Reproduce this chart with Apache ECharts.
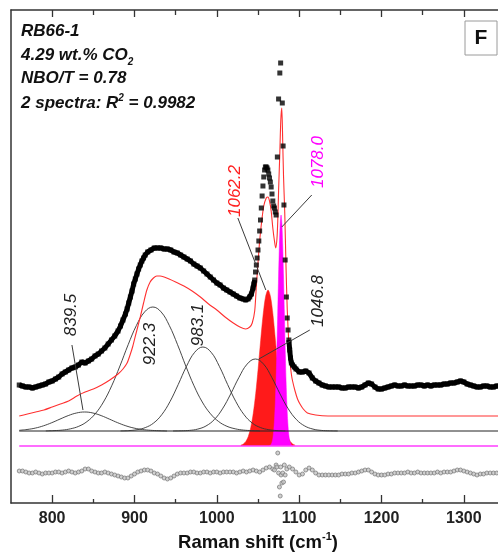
<!DOCTYPE html>
<html>
<head>
<meta charset="utf-8">
<script src="https://cdn.jsdelivr.net/npm/echarts@6/dist/echarts.min.js"></script>
<style>
  html, body { margin: 0; padding: 0; background: #ffffff; }
  #chart { width: 498px; height: 553px; }
</style>
</head>
<body>
<div id="chart"></div>
<script>
// Raman spectrum of glass RB66-1 with its fitted Gaussian bands (intensity in arbitrary units, offset for display)

const majorTicks = [800, 900, 1000, 1100, 1200, 1300];
const minorTicks = [850, 950, 1050, 1150, 1250];

// measured spectrum, offset above the fit
const measured = [
  [760,46],[764,45],[768,44],[772,44],[776,43],[780,44],[784,45],[788,46],[792,47],[796,49],
  [800,50],[804,52],[808,54],[812,57],[816,59],[820,61],[824,63],[828,64],[832,66],[836,69],
  [840,68],[844,70],[848,72],[852,75],[856,77],[860,80],[864,83],[868,87],[872,91],[876,95],
  [880,100],[883,105],[886,111],[889,117],[891,122],[893,128],[895,134],[897,140],[899,147],[901,152],
  [903,157],[905,162],[907,166],[909,170],[911,173],[913,176],[916,179],[920,181],[924,183],[928,183],
  [932,183],[936,182],[940,182],[944,181],[948,179],[952,178],[956,176],[960,174],[964,172],[968,170],
  [972,167],[976,165],[980,163],[984,160],[988,157],[992,154],[996,151],[1000,148],[1004,146],[1008,143],
  [1012,141],[1016,139],[1020,137],[1024,135],[1028,133],[1032,132],[1035,131],[1038,132],[1040,134],[1042,137],
  [1044,143],[1045,147],[1046,151],[1047,159],[1048,166],[1049,173],[1050,181],[1051,190],[1052,200],[1053,211],
  [1054,223],[1055,235],[1056,245],[1057,254],[1058,261],[1059,264],[1060,264],[1061,263],[1062,261],[1063,257],
  [1064,253],[1065,249],[1066,244],[1067,237],[1068,230],[1069,225],[1070,223],[1071,219],[1072,216],[1073.5,274],
  [1075,332],[1076.5,358],[1077.5,368],[1079.5,328],[1080.5,285],[1081.5,226],[1083,171],[1084.5,134],[1085.5,113],[1086.5,101],
  [1087.5,91],[1088.5,81],[1089.5,73],[1090.5,68],[1092,66],[1094,64],[1096,62],[1100,59],[1104,59],[1108,60],
  [1112,58],[1116,53],[1120,50],[1124,48],[1128,46],[1132,45],[1136,44],[1140,44],[1144,44],[1148,44],
  [1152,43],[1156,43],[1160,44],[1164,44],[1168,44],[1172,43],[1176,44],[1180,46],[1184,48],[1188,47],
  [1192,44],[1196,42],[1200,42],[1204,43],[1208,44],[1212,45],[1216,46],[1220,45],[1224,45],[1228,46],
  [1232,45],[1236,45],[1240,45],[1244,46],[1248,46],[1252,45],[1256,46],[1260,45],[1264,46],[1268,46],
  [1272,46],[1276,47],[1280,47],[1284,48],[1288,48],[1292,49],[1296,50],[1300,49],[1304,47],[1308,46],
  [1312,45],[1316,44],[1320,44],[1324,45],[1328,45],[1332,44],[1336,44],[1340,45],[1344,45]
];

// cumulative fit (red line), offset above the bands
const fitTotal = [
  [760,15],[770,17],[780,19],[790,21],[800,24],[810,27],[820,30],[830,35],[840,39],[850,42],
  [860,46],[870,51],[880,57],[886,62],[891,68],[895,77],[898,85],[902,98],[907,114],[911,128],
  [915,141],[919,149],[923,153],[927,155],[931,155],[936,154],[942,152],[950,149],[960,145],[970,140],
  [980,134],[990,127],[1000,121],[1010,114],[1020,108],[1028,104],[1035,102],[1040,104],[1043,108],[1046,120],
  [1048,145],[1050,168],[1052,190],[1054.5,210],[1057,225],[1060,233],[1062,234],[1064,230],[1066,220],[1068,203],
  [1070,190],[1071.5,183],[1073,192],[1074,210],[1075,240],[1076.5,278],[1077.7,311],[1078.9,323],[1080,290],[1081,255],
  [1082.5,218],[1084,165],[1085.5,122],[1087.4,88],[1089,68],[1090.5,57],[1092,50],[1095,40],[1098,32],[1101,27],
  [1105,22],[1110,18],[1120,16],[1135,15],[1350,15]
];

// fitted bands on the common baseline (value 0)
const band839 = [
  [760,0.7],[769.5,1.5],[779.5,2.9],[789.5,5.2],[799.5,8.3],[809.5,11.9],[819.5,15.4],[829.5,18.0],[839.5,19],
  [849.5,18.0],[859.5,15.4],[869.5,11.9],[879.5,8.3],[889.5,5.2],[899.5,2.9],[909.5,1.5],[919.5,0.7],[929.5,0.3],[939.5,0]
];
const band922 = [
  [792.3,0.1],[802.3,0.4],[812.3,0.9],[822.3,2.2],[832.3,4.7],[842.3,9.4],[852.3,17.2],[862.3,29.0],[872.3,45.2],
  [882.3,65.0],[892.3,86.3],[902.3,105.5],[912.3,119.1],[922.3,124],[932.3,119.1],[942.3,105.5],[952.3,86.3],
  [962.3,65.0],[972.3,45.2],[982.3,29.0],[992.3,17.2],[1002.3,9.4],[1012.3,4.7],[1022.3,2.2],[1032.3,0.9],[1042.3,0.4],[1052.3,0.1]
];
const band983 = [
  [883.1,0.1],[893.1,0.4],[903.1,1.3],[913.1,3.4],[923.1,7.9],[933.1,16.3],[943.1,29.4],[953.1,46.5],[963.1,64.6],
  [973.1,78.7],[983.1,84],[993.1,78.7],[1003.1,64.6],[1013.1,46.5],[1023.1,29.4],[1033.1,16.3],[1043.1,7.9],
  [1053.1,3.4],[1063.1,1.3],[1073.1,0.4],[1083.1,0.1]
];
const band1047 = [
  [946.8,0.05],[956.8,0.2],[966.8,0.6],[976.8,1.9],[986.8,5.0],[996.8,11.3],[1006.8,22.1],[1016.8,37.0],[1026.8,53.5],
  [1036.8,66.9],[1046.8,72],[1056.8,66.9],[1066.8,53.5],[1076.8,37.0],[1086.8,22.1],[1096.8,11.3],[1106.8,5.0],
  [1116.8,1.9],[1126.8,0.6],[1136.8,0.2],[1146.8,0.05]
];

// carbonate bands, filled down to their own baseline
const carbBase = -15;
const band1062 = [
  [1029.2,-14.2],[1032.2,-13],[1035.2,-10.5],[1038.2,-5.5],[1041.2,3.4],[1044.2,17.4],[1047.2,37.3],[1050.2,62.5],
  [1053.2,90.3],[1056.2,116],[1059.2,134.3],[1062.2,141],[1065.2,134.3],[1068.2,116],[1071.2,90.3],[1074.2,62.5],
  [1077.2,37.3],[1080.2,17.4],[1083.2,3.4],[1086.2,-5.5],[1089.2,-10.5],[1092.2,-13],[1095.2,-14.2]
];
const band1078 = [
  [1064,-14.7],[1065,-14.3],[1066,-13.3],[1067,-11.3],[1068,-7.5],[1069,-0.6],[1070,11],[1071,28],[1072,52],
  [1073,83],[1074,119],[1075,155],[1076,186],[1077,208],[1078,216],[1079,208],[1080,186],[1081,155],[1082,119],
  [1083,83],[1084,52],[1085,28],[1086,11],[1087,-0.6],[1088,-7.5],[1089,-11.3],[1090,-13.3],[1091,-14.3],[1092,-14.7]
];

// fit residuals
const residual = [
  [760,-40],[764,-40],[768,-41],[772,-42],[776,-42],[780,-41],[784,-42],[788,-43],[792,-42],[796,-42],
  [800,-42],[804,-41],[808,-41],[812,-42],[816,-41],[820,-40],[824,-41],[828,-42],[832,-41],[836,-40],
  [840,-38],[844,-38],[848,-40],[852,-41],[856,-42],[860,-42],[864,-41],[868,-42],[872,-43],[876,-44],
  [880,-45],[884,-46],[888,-47],[892,-47],[896,-45],[900,-43],[904,-41],[908,-40],[912,-39],[916,-39],
  [920,-40],[924,-42],[928,-43],[932,-45],[936,-47],[940,-48],[944,-47],[948,-45],[952,-43],[956,-42],
  [960,-42],[964,-42],[968,-41],[972,-41],[976,-42],[980,-42],[984,-41],[988,-41],[992,-42],[996,-41],
  [1000,-41],[1004,-42],[1008,-41],[1012,-41],[1016,-41],[1020,-41],[1024,-42],[1028,-41],[1032,-40],[1036,-41],
  [1040,-40],[1044,-39],[1048,-40],[1052,-41],[1056,-39],[1060,-37],[1064,-36],[1068,-38],[1070,-39],[1072,-34],
  [1073,-36],[1074,-22],[1075,-42],[1076,-56],[1077,-65],[1077.5,-36],[1078,-44],[1079,-52],[1080,-42],[1081,-51],
  [1082,-34],[1083,-44],[1085,-38],[1088,-36],[1092,-38],[1096,-41],[1100,-44],[1104,-43],[1108,-39],[1112,-37],
  [1116,-39],[1120,-42],[1124,-44],[1128,-44],[1132,-44],[1136,-44],[1140,-44],[1144,-44],[1148,-44],[1152,-43],
  [1156,-43],[1160,-43],[1164,-42],[1168,-42],[1172,-41],[1176,-40],[1180,-39],[1184,-39],[1188,-41],[1192,-43],
  [1196,-44],[1200,-44],[1204,-44],[1208,-43],[1212,-43],[1216,-42],[1220,-42],[1224,-42],[1228,-42],[1232,-41],
  [1236,-42],[1240,-42],[1244,-41],[1248,-42],[1252,-42],[1256,-42],[1260,-42],[1264,-42],[1268,-41],[1272,-42],
  [1276,-41],[1280,-41],[1284,-41],[1288,-40],[1292,-39],[1296,-39],[1300,-40],[1304,-41],[1308,-42],[1312,-43],
  [1316,-44],[1320,-43],[1324,-43],[1328,-42],[1332,-42],[1336,-42],[1340,-42],[1344,-41]
];

// band position labels (rotated), with optional leader lines toward the band maxima
const peakLabels = [
  { text: '839.5',  color: '#222222', at: [822.8, 116], leader: [[824, 86], [837.4, 21]] },
  { text: '922.3',  color: '#222222', at: [918.7, 87] },
  { text: '983.1',  color: '#222222', at: [977, 106] },
  { text: '1046.8', color: '#222222', at: [1122.6, 130], leader: [[1112.9, 101], [1051, 72]] },
  { text: '1062.2', color: '#ff2020', at: [1021.8, 240], leader: [[1025.5, 213], [1059.5, 141]] },
  { text: '1078.0', color: '#ff00ff', at: [1122.6, 269], leader: [[1115.3, 236], [1078.9, 204]] }
];

const FONT = '"Liberation Sans", Arial, Helvetica, sans-serif';
const xMin = 750, xMax = 1350, yMin = -72, yMax = 421;
const frameStyle = { color: '#333333', width: 1.5 };

const chart = echarts.init(document.getElementById('chart'), null, { renderer: 'canvas' });

function tickAxis(position, values, len, withLabels, withLine) {
  return {
    type: 'value', min: xMin, max: xMax, position: position,
    axisLine: { show: !!withLine, onZero: false, lineStyle: frameStyle }, splitLine: { show: false },
    axisTick: { show: true, inside: true, length: len, customValues: values,
                lineStyle: { color: '#333333', width: 1.3 } },
    axisLabel: withLabels
      ? { show: true, customValues: values, margin: 8, color: '#222222',
          fontFamily: FONT, fontSize: 16, fontWeight: 'bold',
          formatter: v => String(v) }
      : { show: false }
  };
}

const xMain = tickAxis('bottom', majorTicks, 8, true, true);
xMain.name = 'Raman shift (cm{sup|-1})';
xMain.nameLocation = 'middle';
xMain.nameGap = 27;
xMain.nameTextStyle = {
  fontFamily: FONT, fontSize: 18.5, fontWeight: 'bold', color: '#111111', lineHeight: 23,
  rich: { sup: { fontFamily: FONT, fontSize: 11, fontWeight: 'bold', color: '#111111',
                 verticalAlign: 'top', lineHeight: 11 } }
};

function lineSeries(data, color, width, z, smooth) {
  return { type: 'line', data: data, symbol: 'none', smooth: smooth || false,
           lineStyle: { color: color, width: width }, z: z, silent: true, clip: true };
}

const option = {
  animation: false,
  backgroundColor: '#ffffff',
  grid: { left: 11, top: 10, width: 494, height: 493, show: false, containLabel: false,
          outerBoundsMode: 'none' },
  xAxis: [
    xMain,
    tickAxis('bottom', minorTicks, 4, false, false),
    tickAxis('top', majorTicks, 7, false, true),
    tickAxis('top', minorTicks, 5, false, false)
  ],
  yAxis: { type: 'value', min: yMin, max: yMax, position: 'left',
           axisLine: { show: true, onZero: false, lineStyle: frameStyle },
           axisTick: { show: false }, axisLabel: { show: false }, splitLine: { show: false } },
  series: [
    Object.assign(lineSeries(band1062, '#ff1a1a', 0.5, 1, 0.3),
      { areaStyle: { color: '#ff1a1a', opacity: 1, origin: carbBase } }),
    Object.assign(lineSeries(band1078, '#ff00ff', 0.5, 2, 0.2),
      { areaStyle: { color: '#ff00ff', opacity: 1, origin: carbBase } }),
    lineSeries([[760, carbBase], [1350, carbBase]], '#ff3cff', 1.6, 3),
    lineSeries([[760, 0], [1350, 0]], '#222222', 1, 3),
    lineSeries(band839, '#333333', 0.9, 4, 0.4),
    lineSeries(band922, '#333333', 0.9, 4, 0.4),
    lineSeries(band983, '#333333', 0.9, 4, 0.4),
    lineSeries(band1047, '#333333', 0.9, 4, 0.4),
    lineSeries(fitTotal, '#ff3030', 1.1, 5, 0.25),
    lineSeries(measured.filter(p => p[0] <= 1046), '#000000', 5, 6),
    lineSeries(measured.filter(p => p[0] >= 1087), '#000000', 5, 6),
    { type: 'scatter', data: measured, symbol: 'rect', symbolSize: 5, z: 7, silent: true,
      itemStyle: { color: '#000000' } },
    { type: 'scatter', data: residual, symbol: 'circle', symbolSize: 4, z: 7, silent: true,
      itemStyle: { color: '#c4c4c4', borderColor: '#808080', borderWidth: 1 } }
  ]
};
chart.setOption(option);

// annotations in pixel space, placed from data coordinates
const px = p => chart.convertToPixel({ xAxisIndex: 0, yAxisIndex: 0 }, p);
const graphics = [];

peakLabels.forEach(lb => {
  const c = px(lb.at);
  graphics.push({ type: 'text', x: c[0], y: c[1], rotation: Math.PI / 2, silent: true, z: 20,
    style: { text: lb.text, fill: lb.color, font: 'italic 17px ' + FONT,
             align: 'center', verticalAlign: 'middle' } });
  if (lb.leader) {
    const a = px(lb.leader[0]), b = px(lb.leader[1]);
    graphics.push({ type: 'line', silent: true, z: 20,
      shape: { x1: a[0], y1: a[1], x2: b[0], y2: b[1] },
      style: { stroke: '#3a3a3a', lineWidth: 1 } });
  }
});

// sample information block
const infoFont = 'italic bold 17px ' + FONT;
const infoRich = {
  sub: { font: 'italic bold 10px ' + FONT, fill: '#111111', verticalAlign: 'bottom', lineHeight: 10 },
  sup: { font: 'italic bold 10px ' + FONT, fill: '#111111', verticalAlign: 'top', lineHeight: 10 }
};
const infoLines = [
  { text: 'RB66-1', y: 31.5, lh: 19 },
  { text: '4.29 wt.% CO{sub|2}', y: 55, lh: 25 },
  { text: 'NBO/T = 0.78', y: 78, lh: 19 },
  { text: '2 spectra: R{sup|2} = 0.9982', y: 103, lh: 19 }
];
infoLines.forEach(l => {
  graphics.push({ type: 'text', x: 21, y: l.y, silent: true, z: 20,
    style: { text: l.text, font: infoFont, fill: '#111111', lineHeight: l.lh,
             align: 'left', verticalAlign: 'middle', rich: infoRich } });
});

// panel letter
graphics.push({ type: 'rect', silent: true, z: 20,
  shape: { x: 465, y: 21, width: 32, height: 34 },
  style: { fill: '#ffffff', stroke: '#9a9a9a', lineWidth: 1 } });
graphics.push({ type: 'text', x: 481, y: 38.5, silent: true, z: 21,
  style: { text: 'F', font: 'bold 21px ' + FONT, fill: '#111111',
           align: 'center', verticalAlign: 'middle' } });

chart.setOption({ graphic: graphics });
</script>
</body>
</html>
